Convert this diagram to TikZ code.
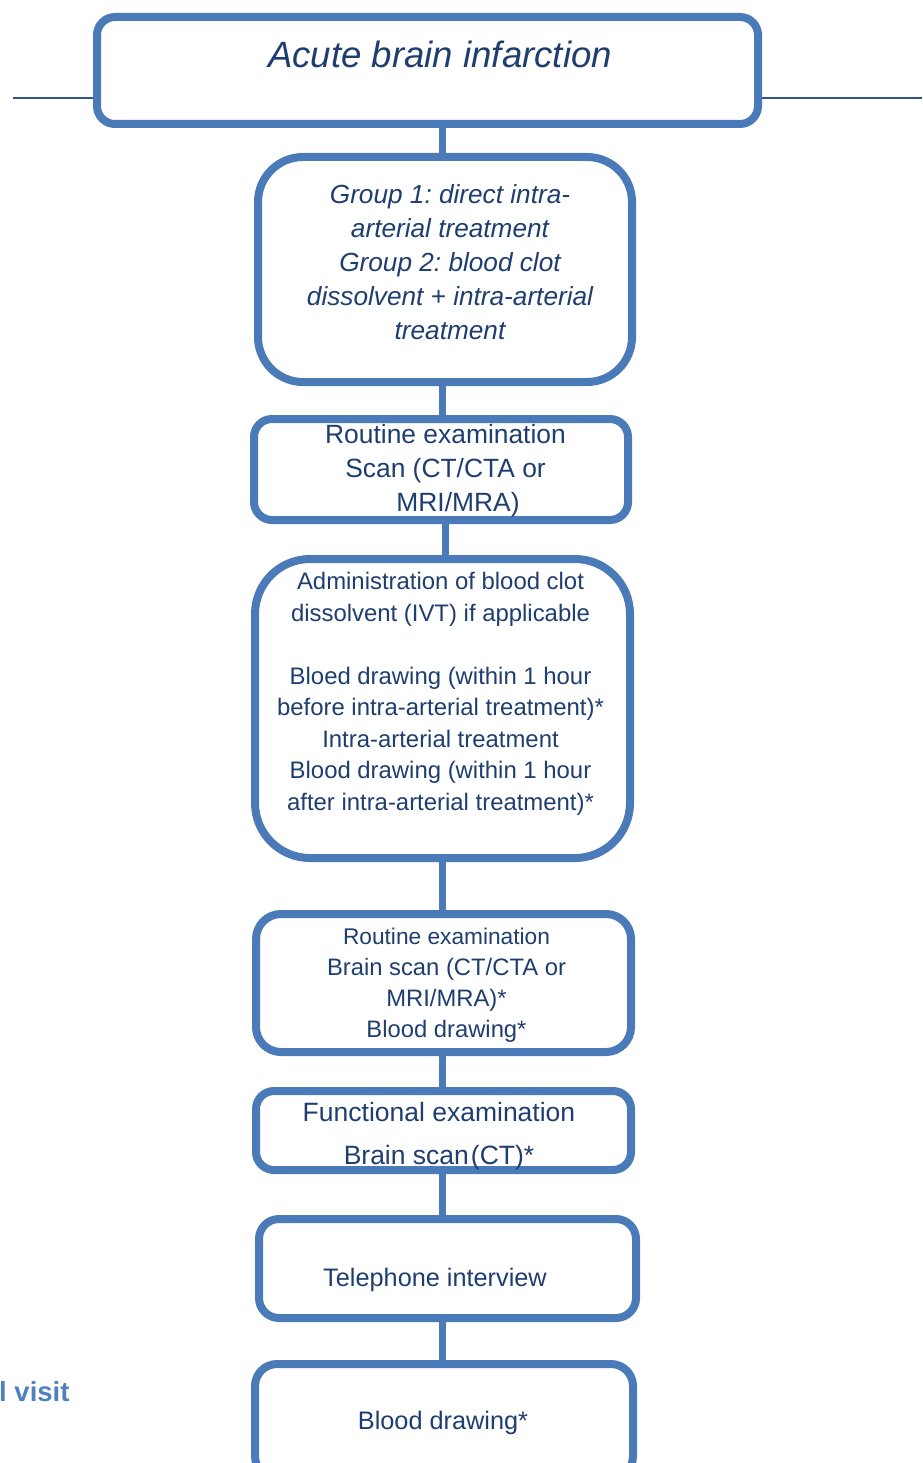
\documentclass[tikz,border=0pt]{standalone}
\usepackage{fontspec}
\setmainfont{Liberation Sans}
\frenchspacing
\definecolor{boxblue}{RGB}{74,122,184}
\definecolor{txtblue}{RGB}{31,62,112}
\definecolor{ruleblue}{RGB}{46,84,140}
\definecolor{visitblue}{RGB}{79,129,189}

\begin{document}
\begin{tikzpicture}[x=1pt, y=-1pt,
  box/.style = {draw=boxblue, line width=8pt, fill=white, rounded corners=#1},
  txt/.style = {text=txtblue, align=center, inner sep=0pt},
  link/.style = {draw=boxblue, line width=7pt},
  rule/.style = {draw=ruleblue, line width=2pt},
  visit/.style = {text=visitblue, inner sep=0pt,
    font=\fontsize{27.5}{32}\selectfont\bfseries}]
  \useasboundingbox (0,0) rectangle (922,1463);
  \coordinate (ruleL) at (13,98);
  \coordinate (ruleR) at (922,98);
  \coordinate (spine) at (442,0);
  \coordinate (spine2) at (445,0);
  \draw[rule] (ruleL) -- (ruleR);

  \node[box=18pt, minimum width=661pt, minimum height=107pt,
    label={[txt, xshift=12.5pt, yshift=16pt,
      font=\fontsize{36.6}{44}\selectfont\itshape]center:{Acute brain infarction}}]
    (onset) at (427.5,70.5) {};
  \node[box=45pt, minimum width=374pt, minimum height=225pt,
    label={[txt, xshift=5pt, yshift=7.5pt,
      font=\fontsize{26.2}{34}\selectfont\itshape]center:{Group 1: direct intra-\\arterial treatment\\Group 2: blood clot\\dissolvent + intra-arterial\\treatment}}]
    (group) at (445,269.5) {};
  \node[box=18pt, minimum width=374pt, minimum height=101pt,
    label={[txt, xshift=4.5pt, yshift=-1.5pt,
      font=\fontsize{26.4}{34}\selectfont]center:{Routine examination\\Scan (CT/CTA or\\\hspace*{25pt}MRI/MRA)}}]
    (scan) at (441,469.5) {};
  \node[box=55pt, minimum width=375pt, minimum height=299pt,
    label={[txt, xshift=-2pt, yshift=14.7pt,
      font=\fontsize{23.9}{31.5}\selectfont]center:{Administration of blood clot\\dissolvent (IVT) if applicable\\[31.5pt]Bloed drawing (within 1 hour\\before intra-arterial treatment)*\\Intra-arterial treatment\\Blood drawing (within 1 hour\\after intra-arterial treatment)*}}]
    (ivt) at (442.5,708.5) {};
  \node[box=25pt, minimum width=375pt, minimum height=138pt,
    label={[txt, xshift=3pt, yshift=-2.7pt,
      font=\fontsize{23.8}{31}\selectfont]center:{{\fontsize{22.7}{31}\selectfont Routine examination}\\Brain scan (CT/CTA or\\MRI/MRA)*\\Blood drawing*}}]
    (brainscan) at (443.5,983) {};
  \node[box=18pt, minimum width=375pt, minimum height=79pt,
    label={[txt, xshift=-4.5pt, yshift=-6pt,
      font=\fontsize{26.5}{43}\selectfont]center:{Functional examination\\Brain scan\kern2pt(CT)*}}]
    (func) at (443.5,1130.5) {};
  \node[box=20pt, minimum width=377pt, minimum height=99pt,
    label={[txt, xshift=-12.5pt, yshift=-11pt,
      font=\fontsize{25.3}{31}\selectfont]center:{Telephone interview}}]
    (phone) at (447.5,1268.5) {};
  \node[box=22pt, minimum width=378pt, minimum height=114pt,
    label={[txt, xshift=-1pt, yshift=-2.4pt,
      font=\fontsize{25.3}{31}\selectfont]center:{Blood drawing*}}]
    (blood) at (444,1421) {};
  \node[visit, anchor=base west] (visit) at (-1,1401) {l visit};

  \draw[link] (onset.south -| spine) -- (group.north -| spine);
  \draw[link] (group.south -| spine) -- (scan.north -| spine);
  \draw[link] (scan.south -| spine2) -- (ivt.north -| spine2);
  \draw[link] (ivt.south -| spine) -- (brainscan.north -| spine);
  \draw[link] (brainscan.south -| spine) -- (func.north -| spine);
  \draw[link] (func.south -| spine) -- (phone.north -| spine);
  \draw[link] (phone.south -| spine) -- (blood.north -| spine);
\end{tikzpicture}
\end{document}
